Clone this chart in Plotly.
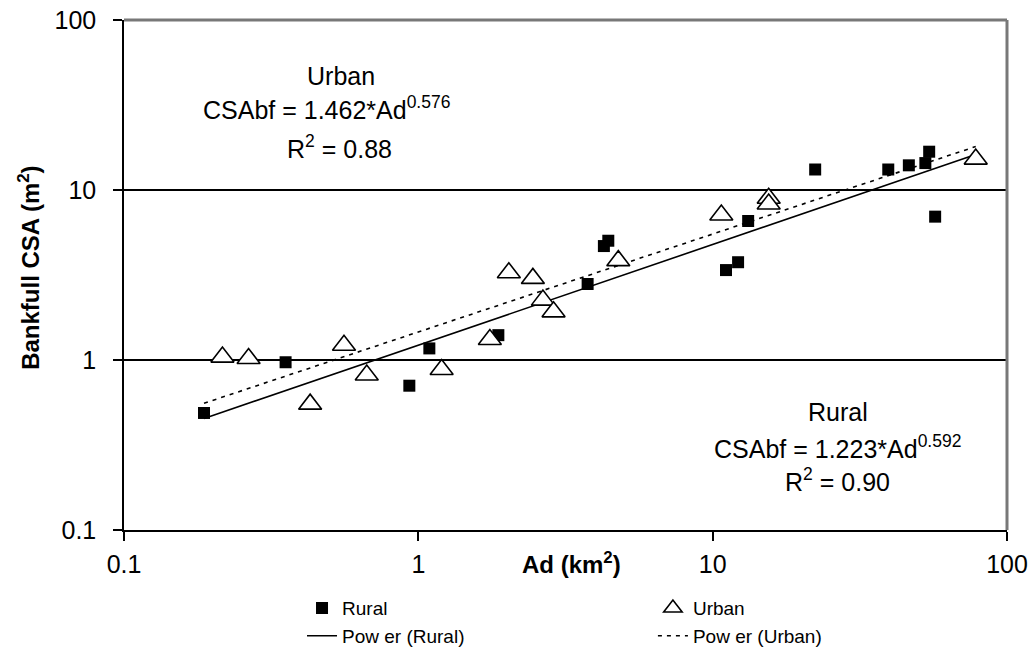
import numpy as np
import plotly.graph_objects as go

# ---- data ----
rural_ad = [0.187, 0.354, 0.932, 1.09, 1.87, 3.76, 4.27, 4.42, 11.1, 12.2, 13.2,
            22.3, 39.5, 46.4, 52.8, 54.4, 57.0]
rural_csa = [0.488, 0.97, 0.706, 1.17, 1.40, 2.80, 4.68, 5.03, 3.38, 3.76, 6.57,
             13.2, 13.2, 13.97, 14.4, 16.8, 6.97]

urban_ad = [0.216, 0.265, 0.429, 0.559, 0.668, 1.20, 1.75, 2.03, 2.45, 2.65, 2.88,
            4.78, 10.7, 15.5, 15.5, 78.3]
urban_csa = [1.04, 1.02, 0.55, 1.22, 0.816, 0.88, 1.32, 3.26, 3.02, 2.25, 1.92,
             3.84, 7.13, 8.94, 8.27, 15.2]

rural_coef, rural_exp, rural_r2 = 1.223, 0.592, "0.90"
urban_coef, urban_exp, urban_r2 = 1.462, 0.576, "0.88"

tick_vals = [0.1, 1, 10, 100]
tick_text = ["0.1", "1", "10", "100"]

FONT = "Liberation Sans, Arial, sans-serif"
GREY = "rgb(120,120,120)"

# trend lines (power fits shown on the chart) over the span of the data
all_x = rural_ad + urban_ad
xt = np.logspace(np.log10(min(all_x)), np.log10(max(all_x)), 120)
rural_fit = rural_coef * xt ** rural_exp
urban_fit = urban_coef * xt ** urban_exp

fig = go.Figure()
fig.add_trace(go.Scatter(x=xt, y=rural_fit, mode="lines", name="Pow er (Rural)",
                         line=dict(color="black", width=1.6), legend="legend",
                         legendrank=2))
fig.add_trace(go.Scatter(x=xt, y=urban_fit, mode="lines", name="Pow er (Urban)",
                         line=dict(color="black", width=1.6, dash="4px,5px"),
                         legend="legend2", legendrank=2))
fig.add_trace(go.Scatter(x=rural_ad, y=rural_csa, mode="markers", name="Rural",
                         marker=dict(symbol="square", size=12, color="black"),
                         legend="legend", legendrank=1))
fig.add_trace(go.Scatter(x=urban_ad, y=urban_csa, mode="markers", name="Urban",
                         marker=dict(symbol="triangle-up", size=20, color="white",
                                     line=dict(color="black", width=1.6)),
                         legend="legend2", legendrank=1))

axis_common = dict(type="log", range=[-1, 2], tickvals=tick_vals, ticktext=tick_text,
                   ticks="outside", ticklen=9, tickwidth=1.5, tickcolor="black",
                   showline=True, linecolor="black", linewidth=1.5,
                   tickfont=dict(family=FONT, size=25, color="black"),
                   ticklabeloverflow="allow", zeroline=False)

fig.update_layout(
    xaxis=dict(**axis_common, showgrid=False, ticklabelstandoff=2),
    yaxis=dict(**axis_common, showgrid=True, gridcolor="black", gridwidth=1.5,
               ticklabelstandoff=12),
)

ann_font = dict(family=FONT, size=25, color="black")
title_font = dict(family=FONT, size=24, color="black")
annotations = [
    dict(x=0.2458, y=0.890, text="Urban"),
    dict(x=0.2293, y=0.827, text=f"CSAbf = {urban_coef}*Ad<sup>{urban_exp}</sup>"),
    dict(x=0.2446, y=0.751, text=f"R<sup>2</sup> = {urban_r2}"),
    dict(x=0.8086, y=0.2314, text="Rural"),
    dict(x=0.808, y=0.1627, text=f"CSAbf = {rural_coef}*Ad<sup>{rural_exp}</sup>"),
    dict(x=0.8086, y=0.098, text=f"R<sup>2</sup> = {rural_r2}"),
]
for a in annotations:
    a.update(font=ann_font)
# axis titles
annotations.append(dict(x=0.507, y=-0.0647, text="<b>Ad (km<sup>2</sup>)</b>",
                        font=title_font))
annotations.append(dict(x=-0.1076, y=0.514, text="<b>Bankfull CSA (m<sup>2</sup>)</b>",
                        font=title_font, textangle=-90))
for a in annotations:
    a.update(xref="paper", yref="paper", showarrow=False,
             xanchor="center", yanchor="middle")

legend_font = dict(family=FONT, size=19, color="black")
fig.update_layout(
    width=1036, height=647,
    margin=dict(l=124, r=29, t=20, b=117, autoexpand=False),
    paper_bgcolor="white", plot_bgcolor="white",
    font=dict(family=FONT, color="black"),
    annotations=annotations,
    legend=dict(x=0.2016, y=-0.116, xanchor="left", yanchor="top", orientation="v",
                font=legend_font, bgcolor="rgba(0,0,0,0)", tracegroupgap=0,
                itemsizing="trace"),
    legend2=dict(x=0.599, y=-0.116, xanchor="left", yanchor="top", orientation="v",
                 font=legend_font, bgcolor="rgba(0,0,0,0)", tracegroupgap=0,
                 itemsizing="trace"),
    showlegend=True,
    shapes=[
        # grey frame on the top and right of the plot area
        dict(type="line", xref="x domain", yref="y domain", x0=0, x1=1, y0=1, y1=1,
             line=dict(color=GREY, width=3), layer="above"),
        dict(type="line", xref="x domain", yref="y domain", x0=1, x1=1, y0=0, y1=1,
             line=dict(color=GREY, width=3), layer="above"),
    ],
)

fig.write_html("out.html", config={"displayModeBar": False},
               post_script="document.body.style.margin='0';"
                           "document.body.style.overflow='hidden';")
